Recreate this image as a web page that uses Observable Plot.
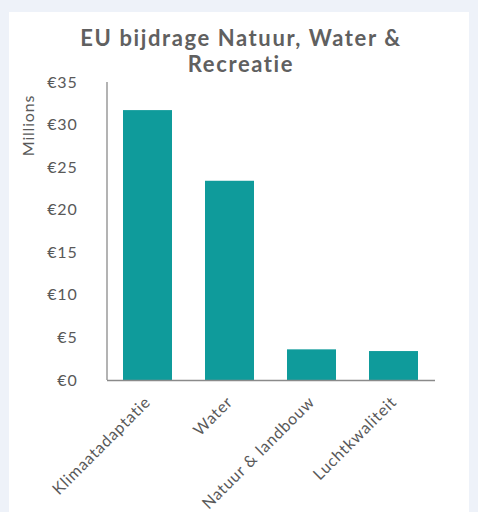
<!DOCTYPE html>
<html><head><meta charset="utf-8">
<script src="https://cdn.jsdelivr.net/npm/d3@7"></script>
<script src="https://cdn.jsdelivr.net/npm/@observablehq/plot@0.6"></script>
<style>
body{margin:0;background:#fff;font-family:Lato,"Open Sans",sans-serif;}
#bg{position:absolute;left:0;top:0;width:478px;height:512px;background:#eef2f9;}
#panel{position:absolute;left:9px;top:12px;width:460px;height:500px;background:#fff;}
#title{position:absolute;left:0;top:13px;width:464px;text-align:center;font-weight:bold;font-size:22px;letter-spacing:1.6px;line-height:26px;color:#606060;}
#chart{position:absolute;left:0;top:58px;}
#chart svg text{letter-spacing:0.8px;}
</style></head>
<body>
<div id="bg"></div>
<div id="panel"><div id="chart"></div><div id="title">EU bijdrage Natuur, Water &amp;<br>Recreatie</div></div>
<script>
const categories = ["Klimaatadaptatie", "Water", "Natuur & landbouw", "Luchtkwaliteit"];
const values = [31.7, 23.4, 3.6, 3.4];
const yTicks = [0, 5, 10, 15, 20, 25, 30, 35];
const yLabel = "Millions";

const data = categories.map((c, i) => ({category: c, value: values[i]}));

const chart = Plot.plot({
  width: 460,
  height: 442,
  marginLeft: 98,
  marginRight: 34,
  marginTop: 12,
  marginBottom: 132,
  style: {fontFamily: "Lato, 'Open Sans', sans-serif", fontSize: "16px", color: "#595959", background: "transparent"},
  x: {domain: categories, paddingInner: 0.4, paddingOuter: 0.2, label: null},
  y: {domain: [0, 35], label: null},
  marks: [
    Plot.barY(data, {x: "category", y: "value", fill: "#0f9b9b"}),
    Plot.axisY({ticks: yTicks, tickFormat: d => "€" + d, tickSize: 0, tickPadding: 30, fontSize: 16, label: null}),
    Plot.axisX({tickSize: 0, tickPadding: 19, tickRotate: -45, fontSize: 16, label: null}),
    Plot.ruleY([0], {stroke: "#8a8a8a", strokeWidth: 1.3}),
    Plot.ruleX([0], {x: () => categories[0], dx: -41, y1: 0, y2: 35, stroke: "#8a8a8a", strokeWidth: 1.3}),
    Plot.text([yLabel], {frameAnchor: "top-left", text: d => d, rotate: -90, textAnchor: "middle", lineAnchor: "middle", dx: -79, dy: 43, fontSize: 16, fill: "#595959"})
  ]
});
document.getElementById("chart").appendChild(chart);
</script>
</body></html>
